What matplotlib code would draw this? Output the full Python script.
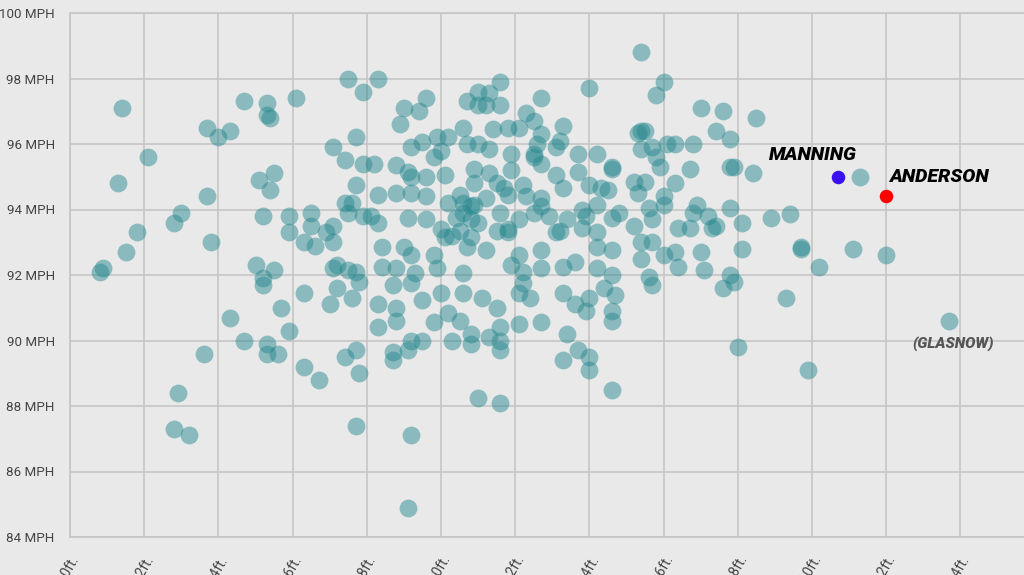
import matplotlib
matplotlib.use("Agg")
import matplotlib.pyplot as plt
import matplotlib.transforms as mtransforms
import numpy as np

# Pitcher height (ft) vs. average fastball velocity (MPH)
height_ft = [
    5.14, 5.09, 5.08, 5.13, 5.15, 5.18, 5.21,
    5.29, 5.28, 5.32, 5.36, 5.28, 5.30, 5.37, 5.38, 5.37, 5.40, 5.43,
    5.43, 5.47, 5.53, 5.53, 5.54, 5.61, 5.51, 5.55, 5.54, 5.52, 5.59, 5.59,
    5.50, 5.55, 5.52, 5.52, 5.57, 5.59, 5.47, 5.53, 5.53, 5.56,
    5.65, 5.65, 5.63, 5.66, 5.71, 5.74, 5.77, 5.75, 5.79, 5.79, 5.77, 5.74,
    5.76, 5.75, 5.71, 5.69, 5.71, 5.72, 5.71, 5.75, 5.77, 5.79, 5.63, 5.70,
    5.72, 5.76, 5.78, 5.63, 5.67, 5.77, 5.74, 5.78, 5.77,
    5.83, 5.96, 5.90, 5.94, 5.89, 6.07, 6.10, 6.13, 6.16, 6.10, 6.12, 6.16,
    6.27, 6.40, 6.54, 6.60, 6.58, 6.23, 6.25, 6.06, 6.14, 6.18, 6.21, 6.27,
    6.33, 6.32, 6.26, 5.92, 5.95, 5.99, 6.02, 6.00, 5.98, 6.07, 6.10, 6.13,
    6.19, 6.25, 6.27, 6.25, 6.31, 6.37, 6.42, 6.46, 6.46, 6.53, 6.54, 6.55,
    6.54, 6.57, 6.58, 6.59, 6.61, 5.82, 5.88, 5.91, 5.92, 5.96, 6.01, 6.09,
    6.13, 6.19, 6.09, 6.15, 6.22, 6.17, 6.31, 6.37, 6.33, 6.40, 6.43, 6.45,
    6.52, 6.55, 6.53, 6.60, 5.88, 5.92, 5.96, 6.02, 6.05, 6.06, 6.09, 6.12,
    6.18, 6.23, 6.27, 5.83, 5.81, 5.83, 5.91, 5.96, 6.00, 6.04, 6.06, 6.08,
    6.08, 6.05, 6.08, 6.10, 6.16, 6.15, 6.18, 6.21, 6.25, 6.27, 6.29, 6.31,
    6.34, 6.38, 6.39, 6.42, 6.42, 6.46, 6.48, 6.52, 6.56, 6.57, 6.60, 5.84,
    5.90, 5.92, 5.98, 6.01, 6.03, 6.07, 6.12, 6.18, 6.21, 6.27, 6.32, 6.36,
    6.38, 6.42, 6.46, 6.54, 6.54, 6.57, 6.60, 5.84, 5.88, 5.93, 5.99, 6.06,
    6.19, 6.22, 6.27, 6.33, 6.42, 6.46, 6.56,
    5.83, 5.83, 5.87, 5.88, 5.88, 5.92, 5.95, 6.00, 5.98, 5.92, 5.95, 5.91,
    5.87, 5.87, 6.02, 6.05, 6.03, 6.06, 6.08, 6.08, 6.11, 6.15, 6.16, 6.13,
    6.16, 6.16, 6.21, 6.24, 6.21, 6.27, 6.22, 6.33, 6.36, 6.39, 6.40, 6.44,
    6.47, 6.46, 6.46, 6.57, 6.34, 6.33, 6.37, 6.40, 6.40, 6.46, 6.10, 6.16,
    5.92, 5.91,
    6.70, 6.76, 6.85, 6.74, 6.78, 6.68, 6.63, 6.67, 6.78, 6.79, 6.84, 6.63,
    6.69, 6.68, 6.72, 6.74, 6.73, 6.78, 6.81, 6.64, 6.67, 6.70, 6.81, 6.89,
    6.94, 6.97, 6.97, 7.02, 7.11, 7.20, 7.13, 6.63, 6.64, 6.71, 6.78,
    6.76, 6.79, 6.93, 6.80, 6.99, 7.37,
]
velo_mph = [
    97.1, 92.2, 92.1, 94.8, 92.7, 93.3, 95.6,
    88.4, 87.3, 87.1, 89.6, 93.6, 93.9, 94.4, 93.0, 96.5, 96.2, 96.4,
    90.7, 97.3, 97.25, 96.9, 96.8, 97.4, 94.9, 95.1, 94.6, 93.8, 93.8, 93.3,
    92.3, 92.15, 91.9, 91.7, 91.0, 90.3, 90.0, 89.9, 89.6, 89.6,
    93.9, 93.5, 93.0, 92.9, 95.9, 95.5, 96.2, 98.0, 97.6, 95.4, 94.75, 94.2,
    94.2, 93.9, 93.5, 93.3, 93.0, 92.3, 92.2, 92.15, 92.1, 93.8, 91.45, 91.1,
    91.6, 91.3, 91.8, 89.2, 88.8, 89.7, 89.5, 89.0, 87.4,
    98.0, 97.4, 97.1, 97.0, 96.6, 97.3, 97.6, 97.55, 97.9, 97.2, 97.2, 97.2,
    97.4, 97.7, 98.8, 97.9, 97.5, 96.95, 96.7, 96.5, 96.45, 96.5, 96.5, 96.3,
    96.55, 96.1, 96.0, 95.9, 96.05, 96.2, 96.2, 95.8, 95.6, 96.0, 96.0, 95.85,
    95.7, 95.7, 95.4, 95.6, 95.9, 95.7, 95.7, 95.3, 95.25, 96.35, 96.4, 96.4,
    95.85, 95.9, 95.6, 95.3, 96.0, 95.4, 95.35, 95.15, 95.0, 95.0, 95.05, 95.25,
    95.1, 95.2, 94.8, 94.8, 94.75, 94.65, 95.05, 95.15, 94.65, 94.75, 94.65, 94.6,
    94.85, 94.85, 94.5, 94.4, 94.5, 94.5, 94.4, 94.2, 94.45, 94.2, 94.15, 94.35,
    94.45, 94.4, 94.35, 94.45, 93.8, 93.6, 93.75, 93.7, 93.4, 93.75, 93.9, 94.1,
    93.7, 93.35, 93.15, 93.6, 93.9, 93.35, 93.4, 93.7, 93.9, 94.1, 93.8, 93.3,
    93.7, 94.0, 93.8, 94.15, 93.3, 93.75, 93.9, 93.5, 94.05, 93.7, 94.15, 92.85,
    92.85, 92.6, 92.6, 93.15, 93.2, 92.85, 92.75, 93.3, 92.6, 92.75, 93.35, 92.4,
    93.45, 92.85, 92.75, 93.0, 92.5, 93.0, 92.6, 92.25, 92.2, 92.05, 92.2, 92.05,
    92.3, 92.1, 92.2, 92.25, 92.2, 92.0, 91.95,
    91.1, 90.4, 91.7, 91.0, 90.6, 91.75, 91.25, 91.45, 90.55, 90.0, 90.0, 89.7,
    89.65, 89.4, 90.85, 90.6, 90.0, 91.45, 90.2, 89.9, 91.3, 91.0, 90.4, 90.1,
    90.0, 89.7, 91.45, 91.3, 90.5, 90.55, 91.75, 91.45, 91.1, 90.9, 91.3, 91.6,
    91.4, 90.9, 90.6, 91.7, 90.2, 89.4, 89.7, 89.5, 89.1, 88.5, 88.25, 88.1,
    87.1, 84.9,
    97.1, 97.0, 96.8, 96.4, 96.15, 96.0, 96.0, 95.25, 95.3, 95.3, 95.1, 94.8,
    94.15, 93.9, 93.8, 93.5, 93.45, 94.05, 93.6, 93.45, 93.45, 92.7, 92.8, 93.75,
    93.85, 92.8, 92.85, 92.25, 92.8, 92.6, 95.0, 92.7, 92.25, 92.15, 92.0,
    91.6, 91.8, 91.3, 89.8, 89.1, 90.6,
]

manning_ft, manning_mph = [7.07], [95.0]
anderson_ft, anderson_mph = [7.20], [94.4]

x_ticks = [5.0, 5.2, 5.4, 5.6, 5.8, 6.0, 6.2, 6.4, 6.6, 6.8, 7.0, 7.2, 7.4]
x_labels = ["5.0ft.", "5.2ft.", "5.4ft.", "5.6ft.", "5.8ft.", "6.0ft.", "6.2ft.",
            "6.4ft.", "6.6ft.", "6.8ft.", "7.0ft.", "7.2ft.", "7.4ft."]
y_ticks = [84, 86, 88, 90, 92, 94, 96, 98, 100]
y_labels = [f"{v} MPH" for v in y_ticks]

BG = "#e9e9e9"
GRID = "#c6c6c6"
TICK_FONT = ["Roboto", "DejaVu Sans"]

W, H = 1024, 575
fig = plt.figure(figsize=(W / 100, H / 100), dpi=100, facecolor=BG)
left_px, right_px, top_px, bot_px = 70, 1024, 13, 537
ax = fig.add_axes([left_px / W, 1 - bot_px / H, (right_px - left_px) / W, (bot_px - top_px) / H])
ax.set_facecolor(BG)

px_per_ft = 371.0
ax.set_xlim(5.0, 5.0 + (right_px - left_px) / px_per_ft)
ax.set_ylim(84, 100)

ax.scatter(height_ft, velo_mph, s=165, color="#24878d", alpha=0.48, linewidths=0, zorder=3)
ax.scatter(manning_ft, manning_mph, s=95, color="#3a10f0", linewidths=0, zorder=4)
ax.scatter(anderson_ft, anderson_mph, s=95, color="#ff0000", linewidths=0, zorder=4)

ax.set_xticks(x_ticks)
ax.set_xticklabels(x_labels, rotation=60, ha="right", rotation_mode="anchor",
                   family=TICK_FONT, fontsize=10, color="#444444")
shift = mtransforms.ScaledTranslation(8 / 100, 0, fig.dpi_scale_trans)
for lab in ax.get_xticklabels():
    lab.set_transform(lab.get_transform() + shift)
ax.set_yticks(y_ticks)
ax.set_yticklabels(y_labels, family=TICK_FONT, fontsize=9.6, color="#444444")
ax.tick_params(axis="both", length=0)
ax.tick_params(axis="y", pad=11)
ax.tick_params(axis="x", pad=11.5)

ax.grid(True, color=GRID, linewidth=1.2, zorder=0)
ax.set_axisbelow(True)
ax.spines["right"].set_visible(False)
for side in ["left", "bottom", "top"]:
    ax.spines[side].set_color(GRID)
    ax.spines[side].set_linewidth(1.2)

lab_font = ["Roboto", "DejaVu Sans"]
ax.text(7.003, 95.66, "MANNING", ha="center", va="center", fontsize=14,
        fontweight=900, fontstyle="italic", family=lab_font, color="#000000", zorder=5)
ax.text(7.207, 94.99, "ANDERSON", ha="left", va="center", fontsize=14,
        fontweight=900, fontstyle="italic", family=lab_font, color="#000000", zorder=5)
ax.text(7.38, 89.92, "(GLASNOW)", ha="center", va="center", fontsize=11,
        fontweight=900, fontstyle="italic", family=lab_font, color="#555555", zorder=5)

fig.savefig("out.png", dpi=100, facecolor=BG)
